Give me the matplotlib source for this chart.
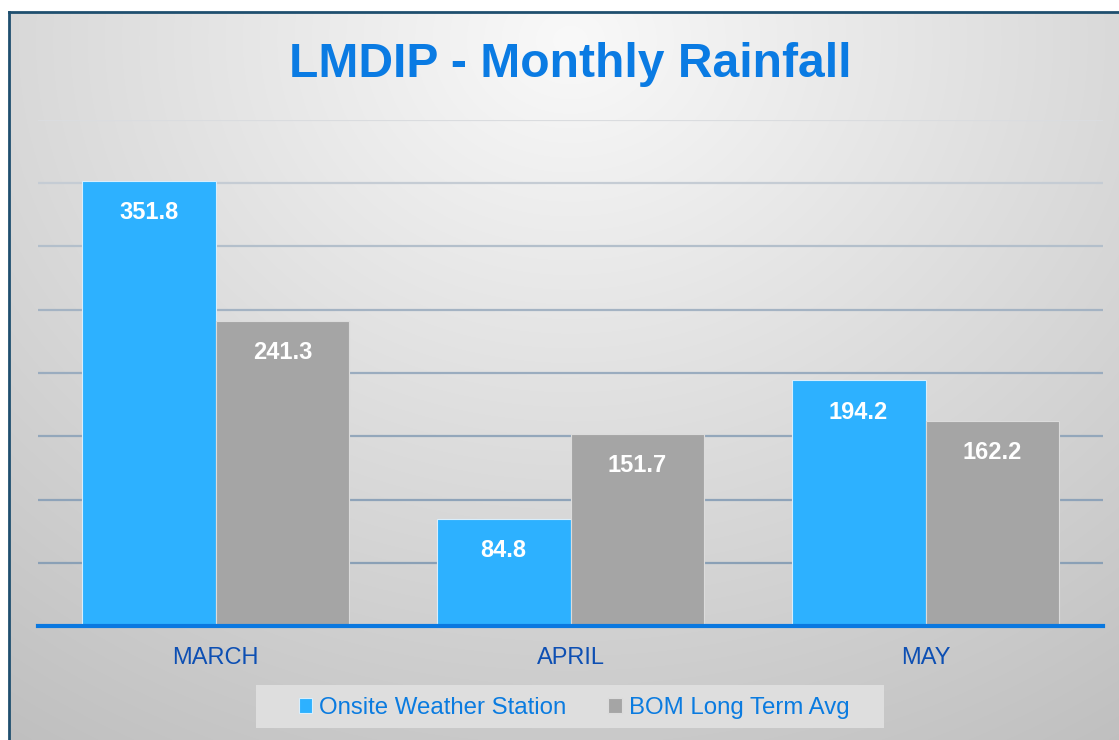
import matplotlib
matplotlib.use("Agg")
import matplotlib.pyplot as plt
from matplotlib.patches import Rectangle
import numpy as np

# data
months = ["MARCH", "APRIL", "MAY"]
onsite = [351.8, 84.8, 194.2]
bom_avg = [241.3, 151.7, 162.2]
series_names = ["Onsite Weather Station", "BOM Long Term Avg"]

plt.rcParams["font.family"] = ["Liberation Sans", "DejaVu Sans"]

W, H = 1119, 740
fig = plt.figure(figsize=(W / 100, H / 100), dpi=100)

# background: radial grey gradient inside a dark frame
bg = fig.add_axes([0, 0, 1, 1])
yy, xx = np.mgrid[0:H, 0:W]
r = np.sqrt(((xx - 570) / 1.0) ** 2 + ((yy - 40) / 0.85) ** 2)
val = np.clip(249 - r * 0.058, 190, 250) / 255.0
img = np.dstack([val, val, val])
img[:12, :, :] = 1.0
img[:, :9, :] = 1.0
bg.imshow(img, extent=[0, W, H, 0], aspect="auto", interpolation="bilinear")
bg.plot([9, 9], [12, H], color="#1f4f6f", lw=2)
bg.plot([9, W], [12, 12], color="#1f4f6f", lw=2)
# legend backdrop
bg.add_patch(Rectangle((256, 685), 628, 43, facecolor="#dedede", edgecolor="none"))
bg.set_xlim(0, W)
bg.set_ylim(H, 0)
bg.axis("off")

# plot area
ax = fig.add_axes([38 / W, 1 - 626 / H, (1103 - 38) / W, (626 - 120) / H])
ax.patch.set_alpha(0)
x = np.arange(len(months))
bw = 0.377
b1 = ax.bar(x - bw / 2, onsite, bw, color="#2db1ff", edgecolor="#d8eefc", lw=0.8,
            label=series_names[0], zorder=3)
b2 = ax.bar(x + bw / 2, bom_avg, bw, color="#a5a5a5", edgecolor="#dcdcdc", lw=0.8,
            label=series_names[1], zorder=3)

for bars in (b1, b2):
    for rect in bars:
        h = rect.get_height()
        ax.annotate(f"{h:.1f}", (rect.get_x() + rect.get_width() / 2, h),
                    xytext=(0, -27.5), textcoords="offset points",
                    ha="center", va="baseline", color="white",
                    fontsize=17, fontweight="bold", zorder=4)

ax.set_xlim(-0.5, len(months) - 0.5)
ax.set_ylim(0, 400)
ax.set_yticks(np.arange(50, 401, 50))
ax.yaxis.grid(True, lw=1.6, zorder=0)
cols = ["#8aa0b6", "#8ea3b9", "#93a7bb", "#9aacbf", "#a4b3c3", "#b3bfcb", "#c5ccd4", "#dadcdf"]
for gl, c in zip(ax.get_ygridlines(), cols):
    gl.set_color(c)
ax.tick_params(axis="y", left=False, labelleft=False)
ax.set_xticks(x)
ax.set_xticklabels(months, fontsize=17, color="#0d4fb3")
ax.tick_params(axis="x", length=0, pad=15)
for s in ax.spines.values():
    s.set_visible(False)
ax.axhline(0, color="#0a78e0", lw=3, zorder=5, clip_on=False)

fig.text(570.5 / W, 1 - 77 / H, "LMDIP - Monthly Rainfall", ha="center", va="baseline",
         fontsize=34.6, fontweight="bold", color="#0a7be3")

leg = fig.legend(handles=[b1, b2], loc="center", bbox_to_anchor=(574 / W, 1 - 708 / H),
                 ncol=2, fontsize=17.3, frameon=False,
                 handlelength=0.55, handleheight=0.55, handletextpad=0.3,
                 columnspacing=1.75, borderpad=0.4, borderaxespad=0)
for t in leg.get_texts():
    t.set_color("#0a7be0")

fig.savefig("out.png", dpi=100)
